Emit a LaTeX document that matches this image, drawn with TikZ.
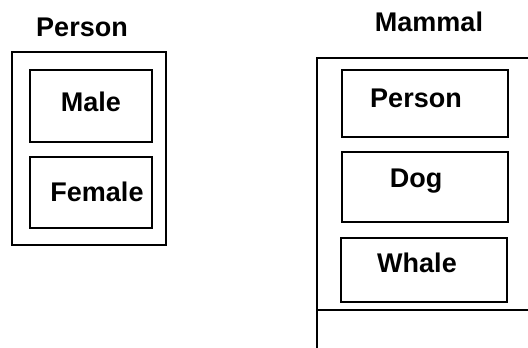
\documentclass[tikz,border=0pt]{standalone}
\usepackage{fontspec}
\setmainfont{Liberation Sans}
\tikzset{lbl/.style={font=\fontsize{27}{30}\selectfont\bfseries, inner sep=0pt}}
\begin{document}
\begin{tikzpicture}[x=1pt,y=-1pt,line width=1.3pt]
  \useasboundingbox (0,0) rectangle (528,348);

  % Person with its two parts
  \node[lbl] (person) at (82,27) {Person};
  \draw (12,52) rectangle (166,245);
  \draw (30,70) rectangle (152,142);
  \draw (30,157) rectangle (152,228);
  \node[lbl] (male) at (91,102) {Male};
  \node[lbl] (female) at (97,192) {Female};

  % Mammal, running off to the right and below
  \node[lbl] (mammal) at (429,22) {Mammal};
  \draw (532,58) -- (317,58) -- (317,352);
  \draw (317,310) -- (532,310);
  \draw (342,70) rectangle (508,137);
  \draw (342,152) rectangle (508,222);
  \draw (341,238) rectangle (507,302);
  \node[lbl] (mperson) at (416,98) {Person};
  \node[lbl] (dog) at (416,181) {Dog};
  \node[lbl] (whale) at (417,263) {Whale};
\end{tikzpicture}
\end{document}
